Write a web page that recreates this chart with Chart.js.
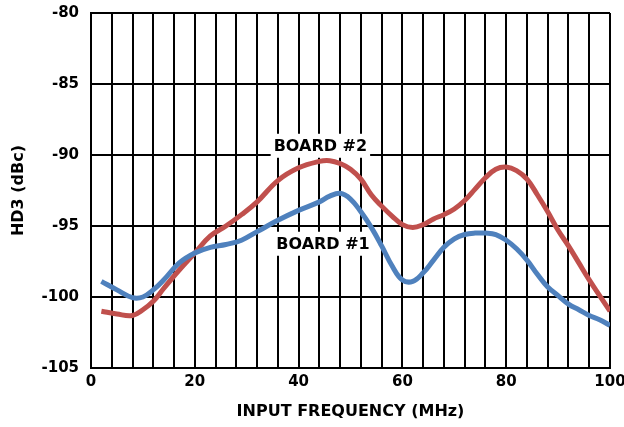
<!DOCTYPE html>
<html>
<head>
<meta charset="utf-8">
<script src="https://cdn.jsdelivr.net/npm/chart.js@4"></script>
<style>
  html, body { margin: 0; padding: 0; background: #fff; }
  #wrap { width: 624px; height: 427px; }
</style>
</head>
<body>
<div id="wrap"><canvas id="hd3Chart"></canvas></div>
<script>
const freq = [2, 5, 8, 10, 12, 14, 17, 20, 23, 26, 29, 32, 36, 40, 44, 46, 48, 50, 52, 54, 56, 58, 60,
              62, 64, 66, 68, 70, 72, 74, 76, 78, 80, 82, 84, 86, 88, 90, 92, 94, 96, 98, 100];
const board1 = [-98.9, -99.5, -100.05, -100.0, -99.5, -98.8, -97.6, -96.9, -96.5, -96.3, -96.0, -95.4, -94.6,
                -93.9, -93.3, -92.9, -92.7, -93.1, -94.0, -95.1, -96.4, -97.8, -98.8, -98.9, -98.3, -97.4,
                -96.5, -95.9, -95.6, -95.5, -95.5, -95.6, -96.0, -96.6, -97.4, -98.4, -99.3, -99.9, -100.5,
                -100.9, -101.3, -101.6, -102.0];
const board2 = [-101.0, -101.2, -101.3, -100.9, -100.3, -99.4, -98.1, -96.9, -95.7, -95.0, -94.2, -93.3, -91.8,
                -90.9, -90.45, -90.4, -90.6, -91.0, -91.7, -92.8, -93.6, -94.3, -94.9, -95.1, -94.9, -94.5,
                -94.2, -93.8, -93.2, -92.4, -91.6, -91.0, -90.85, -91.1, -91.7, -92.8, -94.0, -95.3, -96.4,
                -97.6, -98.8, -99.9, -101.0];
const xLabels = [0, 20, 40, 60, 80, 100];
const yTicks = [-105, -100, -95, -90, -85, -80];

// series name labels placed in data units
const notes = [
    { text: "BOARD #2", x: 44.2, y: -89.35 },
    { text: "BOARD #1", x: 44.7, y: -96.25 }
];

const font = "DejaVu Sans";

const notePlugin = {
    id: "notes",
    beforeDatasetsDraw(chart) {
        const ctx = chart.ctx;
        const xs = chart.scales.x, ys = chart.scales.y;
        ctx.save();
        ctx.font = "bold 16px '" + font + "'";
        ctx.textAlign = "center";
        ctx.textBaseline = "middle";
        notes.forEach(n => {
            const px = xs.getPixelForValue(n.x);
            const py = ys.getPixelForValue(n.y);
            const w = ctx.measureText(n.text).width;
            ctx.fillStyle = "#fff";
            ctx.fillRect(px - w / 2 - 3, py - 12, w + 6, 24);
            ctx.fillStyle = "#000";
            ctx.fillText(n.text, px, py + 1);
        });
        ctx.restore();
    }
};

const ctx = document.getElementById("hd3Chart").getContext("2d");
new Chart(ctx, {
    type: "line",
    data: {
        datasets: [
            { label: "BOARD #1", data: freq.map((f, i) => ({x: f, y: board1[i]})),
              borderColor: "#4F81BD", borderWidth: 5, pointRadius: 0, tension: 0.4, fill: false },
            { label: "BOARD #2", data: freq.map((f, i) => ({x: f, y: board2[i]})),
              borderColor: "#C0504D", borderWidth: 5, pointRadius: 0, tension: 0.4, fill: false }
        ]
    },
    options: {
        responsive: true,
        maintainAspectRatio: false,
        animation: false,
        layout: { padding: 0 },
        plugins: { legend: { display: false }, tooltip: { enabled: false } },
        scales: {
            x: {
                type: "linear", min: 0, max: 100,
                grid: { color: "#000", lineWidth: 2, drawTicks: false },
                border: { color: "#000", width: 2 },
                ticks: {
                    stepSize: 4, autoSkip: false, maxRotation: 0, padding: 5, color: "#000",
                    font: { family: font, size: 15, weight: "bold" },
                    callback: v => xLabels.includes(v) ? String(v) : ""
                },
                title: { display: true, text: "INPUT FREQUENCY (MHz)", color: "#000",
                         font: { family: font, size: 16, weight: "bold" }, padding: { top: 4, bottom: 6 } },
                afterFit: s => { s.height = 59; s.paddingRight = 14; }
            },
            y: {
                min: -105, max: -80,
                grid: { color: "#000", lineWidth: 2, drawTicks: false },
                border: { color: "#000", width: 2 },
                ticks: {
                    stepSize: 5, padding: 12, color: "#000",
                    font: { family: font, size: 15, weight: "bold" },
                    callback: v => yTicks.includes(v) ? String(v) : ""
                },
                title: { display: true, text: "HD3 (dBc)", color: "#000",
                         font: { family: font, size: 16, weight: "bold" }, padding: { top: 9, bottom: 0 } },
                afterFit: s => { s.width = 91; s.paddingTop = 13; }
            }
        }
    },
    plugins: [notePlugin]
});
</script>
</body>
</html>
